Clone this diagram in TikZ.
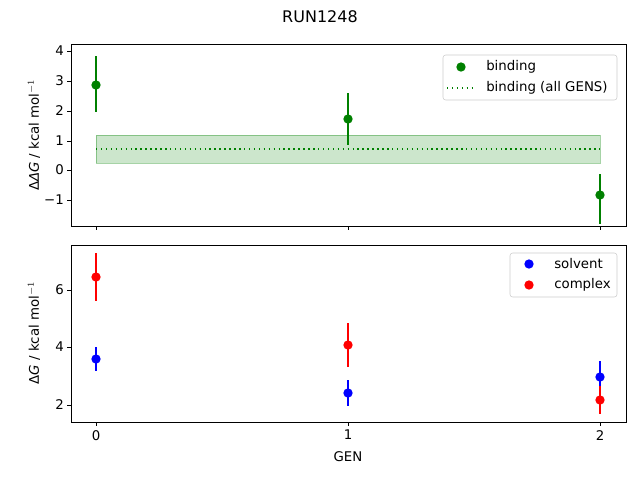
\documentclass[tikz,border=0pt]{standalone}
\usepackage{fontspec}
\setmainfont{DejaVu Sans}
\definecolor{mgreen}{RGB}{0,128,0}
\begin{document}
\begin{tikzpicture}[x=0.75pt,y=-0.75pt,
  ax/.style={line width=0.6pt},
  tk/.style={line width=0.6pt},
  lbl/.style={font=\fontsize{10}{12}\selectfont,inner sep=0pt},
  eb/.style={line width=1.1pt},
  dts/.style={dash pattern=on 1.1pt off 2.6pt,line width=1.1pt},
  dot/.style={circle,fill,inner sep=0pt,minimum size=7pt}]
\useasboundingbox (0,0) rectangle (640,480);
\node[font=\fontsize{12}{14}\selectfont] (title) at (320,17) {RUN1248};
% top panel
\fill[mgreen,opacity=0.2] (96,135) rectangle (600,163);
\draw[mgreen,opacity=0.35,line width=0.6pt] (96,135) rectangle (600,163);
\draw[mgreen,dts] (96,149) -- (600,149);
\foreach \x/\c/\a/\b in {96/85/56/112, 348/119/93/145, 600/195/174/224}{
  \draw[mgreen,eb] (\x,\a) -- (\x,\b);
  \node[dot,mgreen] at (\x,\c) {};}
\draw[ax] (71,44) rectangle (626,226);
\foreach \v/\y in {4/51,3/81,2/111,1/141,0/170,−1/200}{
  \draw[tk] (71,\y) -- (67,\y);
  \node[lbl,anchor=east] at (64,\y) {\v};}
\foreach \x in {96,348,600}{\draw[tk] (\x,226) -- (\x,230);}
\node[lbl,rotate=90] (yl1) at (34,135) {Δ\textit{ΔG} / kcal mol$^{-1}$};
\draw[black!20,fill=white,rounded corners=2pt] (443,55) rectangle (617,100);
\node[dot,mgreen] at (461,67) {};
\node[lbl,anchor=west] at (486,67) {binding};
\draw[mgreen,dts] (447,88) -- (475,88);
\node[lbl,anchor=west] at (486,88) {binding (all GENS)};
% bottom panel
\foreach \x/\c/\a/\b in {96/359/347/371, 348/393/380/406, 600/377/361/395}{
  \draw[blue,eb] (\x,\a) -- (\x,\b);
  \node[dot,blue] at (\x,\c) {};}
\foreach \x/\c/\a/\b in {96/277/253/301, 348/345/323/367, 600/400/386/414}{
  \draw[red,eb] (\x,\a) -- (\x,\b);
  \node[dot,red] at (\x,\c) {};}
\draw[ax] (71,245) rectangle (626,422);
\foreach \v/\y in {6/290,4/347,2/405}{
  \draw[tk] (71,\y) -- (67,\y);
  \node[lbl,anchor=east] at (64,\y) {\v};}
\foreach \v/\x in {0/96,1/348,2/600}{
  \draw[tk] (\x,422) -- (\x,426);
  \node[lbl,anchor=north] at (\x,430) {\v};}
\node[lbl] (gen) at (348,457) {GEN};
\node[lbl,rotate=90] (yl2) at (34,333) {Δ\textit{G} / kcal mol$^{-1}$};
\draw[black!20,fill=white,rounded corners=2pt] (510,253) rectangle (617,297);
\node[dot,blue] at (529,264) {};
\node[lbl,anchor=west] at (554,264) {solvent};
\node[dot,red] at (529,285) {};
\node[lbl,anchor=west] at (554,285) {complex};
\end{tikzpicture}
\end{document}
